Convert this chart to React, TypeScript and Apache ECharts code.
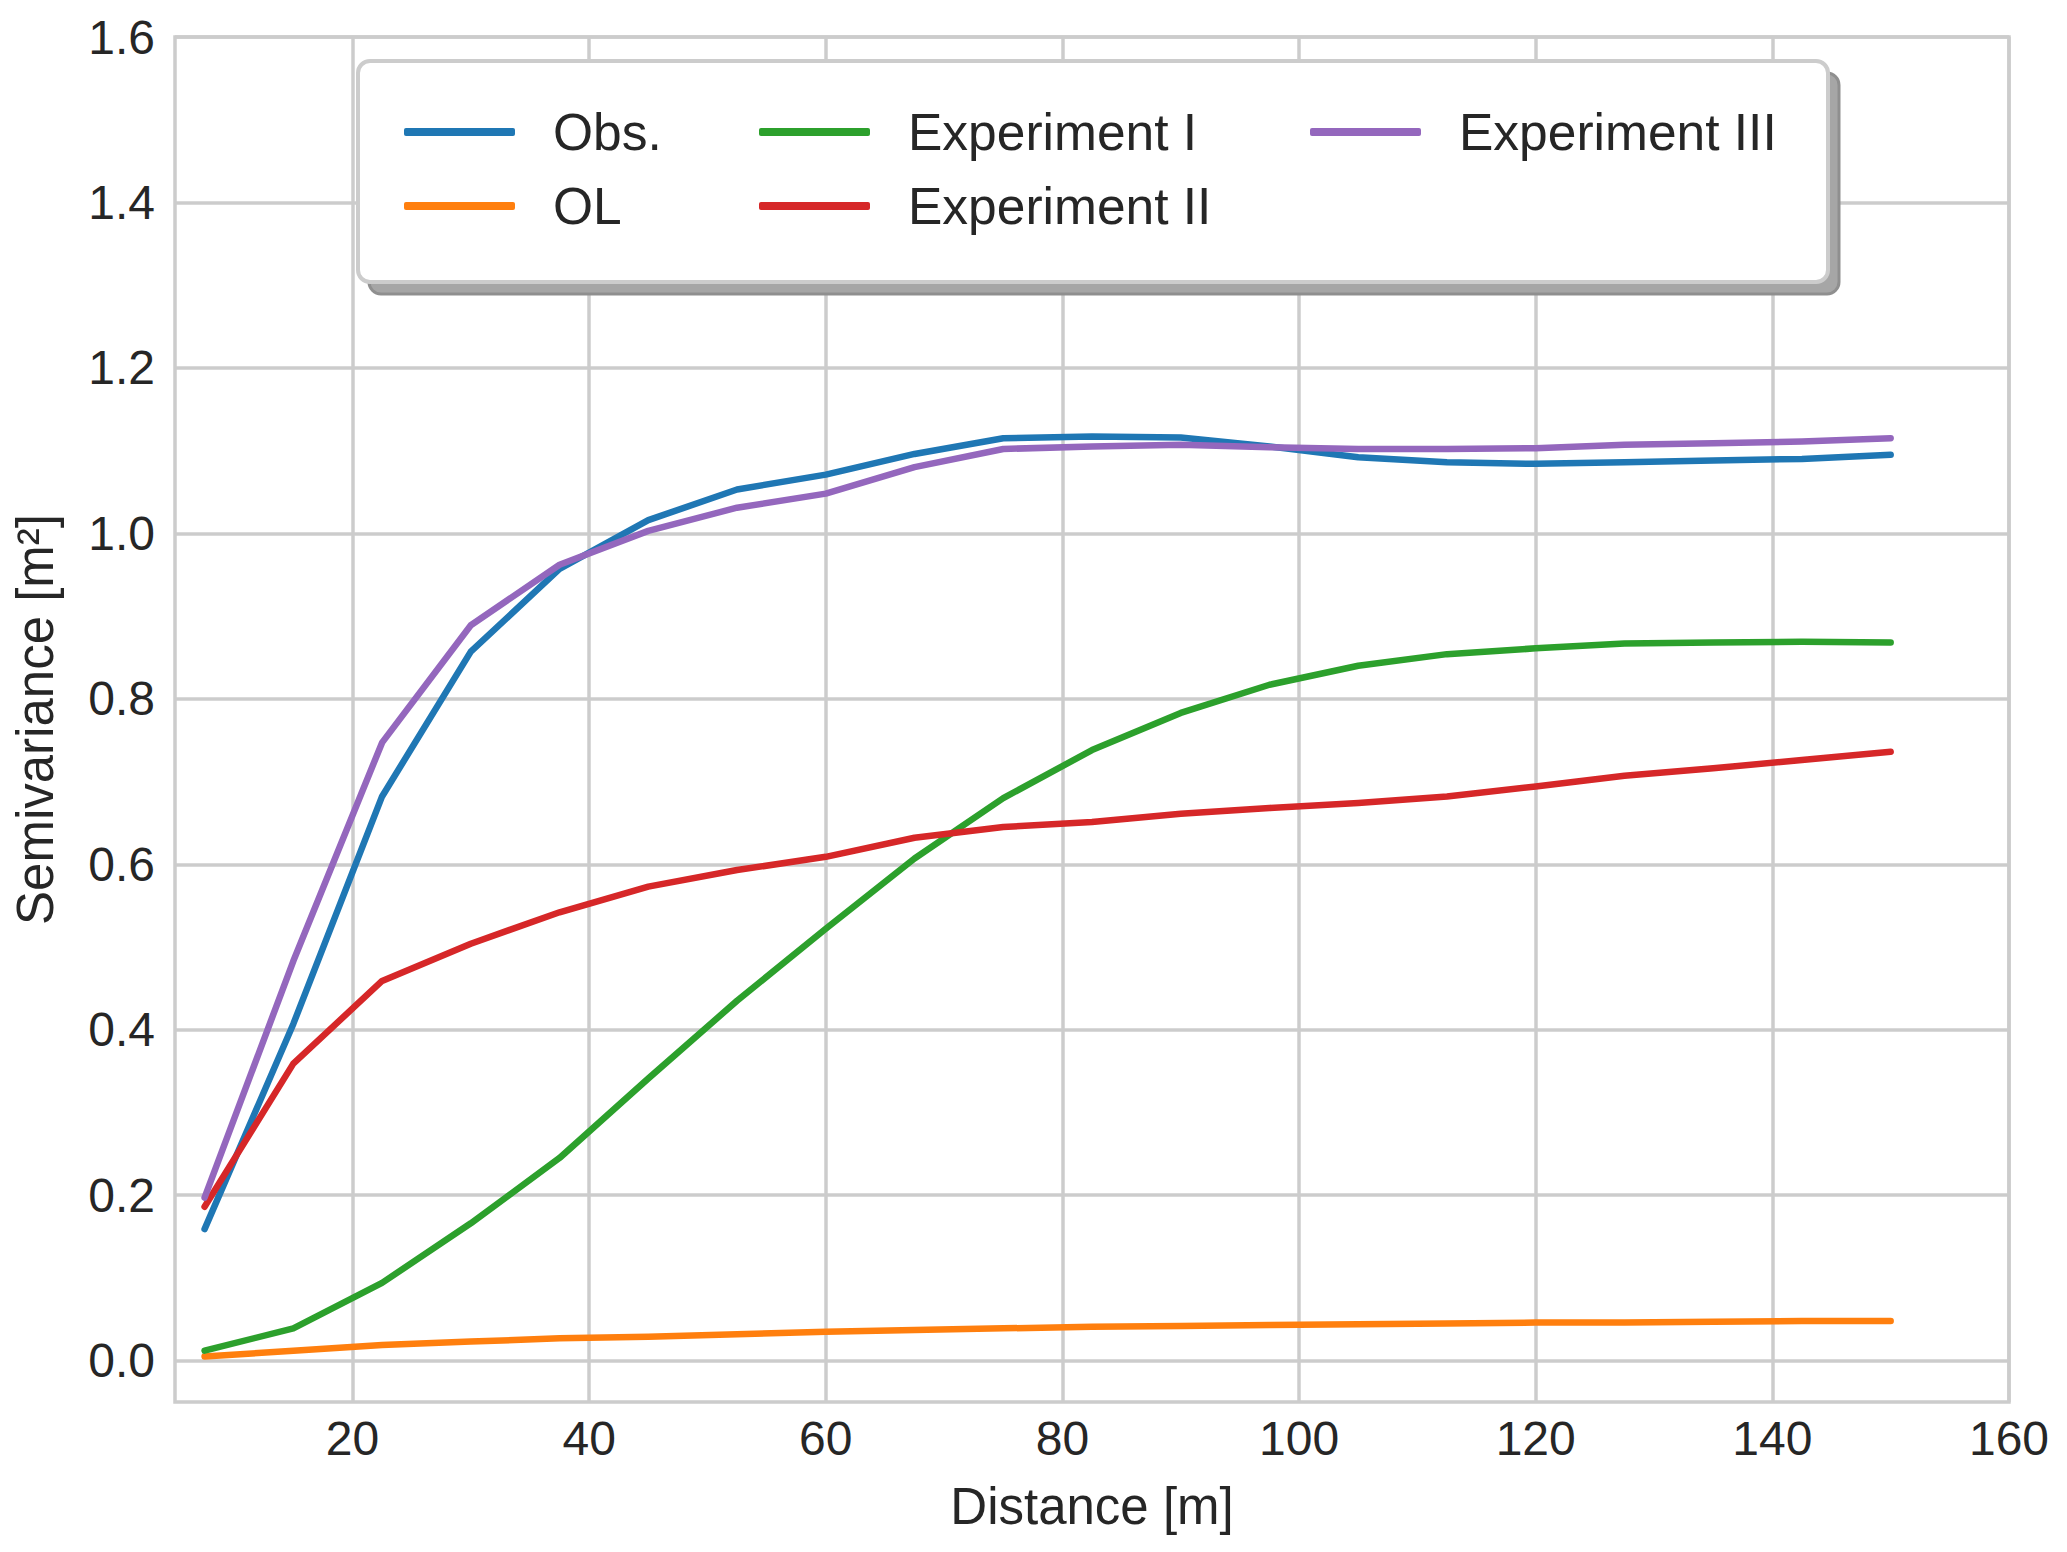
import { useEffect, useRef } from 'react';
import * as echarts from 'echarts';

const distances = [7.5, 15, 22.5, 30, 37.5, 45, 52.5, 60, 67.5, 75, 82.5, 90, 97.5, 105, 112.5, 120, 127.5, 135, 142.5, 150];

const obs = [0.159, 0.407, 0.682, 0.857, 0.957, 1.016, 1.053, 1.071, 1.096, 1.115, 1.117, 1.116, 1.105, 1.092, 1.086, 1.084, 1.086, 1.088, 1.090, 1.095];
const ol = [0.005, 0.012, 0.019, 0.023, 0.027, 0.029, 0.032, 0.035, 0.037, 0.039, 0.041, 0.042, 0.043, 0.044, 0.045, 0.046, 0.046, 0.047, 0.048, 0.048];
const exp1 = [0.012, 0.039, 0.094, 0.166, 0.245, 0.341, 0.435, 0.522, 0.607, 0.680, 0.738, 0.783, 0.817, 0.840, 0.854, 0.861, 0.867, 0.868, 0.869, 0.868];
const exp2 = [0.186, 0.359, 0.459, 0.504, 0.542, 0.573, 0.593, 0.609, 0.632, 0.645, 0.651, 0.661, 0.668, 0.674, 0.682, 0.694, 0.707, 0.716, 0.726, 0.736];
const exp3 = [0.197, 0.483, 0.747, 0.889, 0.962, 1.003, 1.031, 1.048, 1.080, 1.102, 1.105, 1.107, 1.104, 1.102, 1.102, 1.103, 1.107, 1.109, 1.111, 1.115];

const xTicks = [20, 40, 60, 80, 100, 120, 140, 160];
const yTicks = [0, 0.2, 0.4, 0.6, 0.8, 1.0, 1.2, 1.4, 1.6];

const seriesDefs = [
  { name: 'Obs.', values: obs, color: '#1f77b4' },
  { name: 'OL', values: ol, color: '#ff7f0e' },
  { name: 'Experiment I', values: exp1, color: '#2ca02c' },
  { name: 'Experiment II', values: exp2, color: '#d62728' },
  { name: 'Experiment III', values: exp3, color: '#9467bd' },
];

const legendColumns = [
  ['Obs.', 'OL'],
  ['Experiment I', 'Experiment II'],
  ['Experiment III'],
];
const legendLefts = [399, 754, 1305];

const FONT = '"Liberation Sans", Arial, sans-serif';
const TEXT = '#262626';
const GRID = '#cccccc';

export default function App() {
  const chartRef = useRef<HTMLDivElement>(null);

  useEffect(() => {
    if (!chartRef.current) return;
    const chart = echarts.init(chartRef.current, null, { renderer: 'svg' });

    const option: echarts.EChartsOption = {
      animation: false,
      backgroundColor: '#ffffff',
      textStyle: { fontFamily: FONT },
      grid: {
        left: 175,
        right: 58,
        top: 37,
        bottom: 150,
        show: true,
        borderColor: GRID,
        borderWidth: 3.5,
        backgroundColor: 'transparent',
      },
      xAxis: {
        type: 'value',
        min: 5,
        max: 160,
        name: 'Distance [m]',
        nameLocation: 'middle',
        nameGap: 79,
        nameTextStyle: { fontSize: 51, color: TEXT, fontFamily: FONT },
        axisLine: { show: false },
        axisTick: { show: false, customValues: xTicks } as any,
        axisLabel: {
          customValues: xTicks,
          fontSize: 48,
          color: TEXT,
          margin: 12,
          fontFamily: FONT,
        } as any,
        splitLine: {
          show: true,
          customValues: xTicks,
          lineStyle: { color: GRID, width: 3.5 },
        } as any,
      },
      yAxis: {
        type: 'value',
        min: -0.05,
        max: 1.6,
        name: 'Semivariance [m²]',
        nameLocation: 'middle',
        nameGap: 114,
        nameTextStyle: { fontSize: 51, color: TEXT, fontFamily: FONT },
        axisLine: { show: false },
        axisTick: { show: false, customValues: yTicks } as any,
        axisLabel: {
          customValues: yTicks,
          fontSize: 48,
          color: TEXT,
          margin: 20,
          fontFamily: FONT,
          formatter: (v: number) => v.toFixed(1),
        } as any,
        splitLine: {
          show: true,
          customValues: yTicks,
          lineStyle: { color: GRID, width: 3.5 },
        } as any,
      },
      legend: legendColumns.map((names, i) => ({
        data: names,
        orient: 'vertical',
        left: legendLefts[i],
        top: 101,
        z: 200,
        icon: 'roundRect',
        itemWidth: 111,
        itemHeight: 8,
        itemGap: 22,
        selectedMode: false,
        textStyle: {
          fontSize: 51.5,
          lineHeight: 51,
          color: TEXT,
          fontFamily: FONT,
          padding: [0, 0, 0, 33],
        },
      })),
      graphic: [
        {
          type: 'rect',
          z: 100,
          shape: { x: 369, y: 73, width: 1470, height: 221, r: 12 },
          style: { fill: '#a6a6a6', stroke: '#8f8f8f', lineWidth: 3 },
        },
        {
          type: 'rect',
          z: 101,
          shape: { x: 358, y: 61, width: 1470, height: 221, r: 12 },
          style: { fill: '#ffffff', stroke: GRID, lineWidth: 4 },
        },
      ],
      series: seriesDefs.map((s) => ({
        name: s.name,
        type: 'line',
        data: distances.map((d, i) => [d, s.values[i]]),
        symbol: 'none',
        color: s.color,
        lineStyle: { color: s.color, width: 6.5, cap: 'round', join: 'round' },
        z: 10,
      })),
    };

    chart.setOption(option);

    return () => {
      chart.dispose();
    };
  }, []);

  return (
    <div
      ref={chartRef}
      style={{ position: 'fixed', left: 0, top: 0, width: 2067, height: 1552 }}
    />
  );
}
